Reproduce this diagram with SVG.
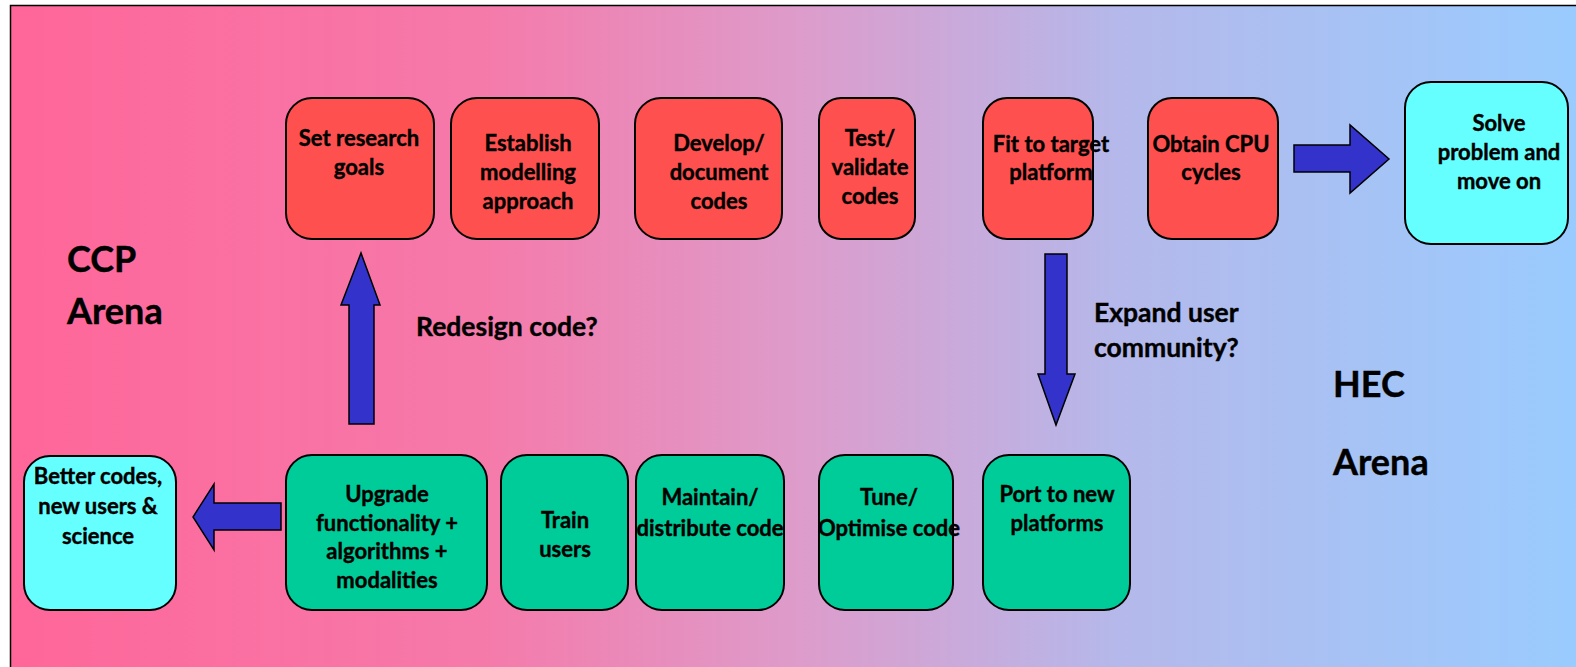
<svg xmlns="http://www.w3.org/2000/svg" width="1576" height="667" viewBox="0 0 1576 667">
<defs>
<linearGradient id="bg" x1="0" y1="0" x2="1" y2="0">
<stop offset="0" stop-color="#FF6699"/>
<stop offset="0.3" stop-color="#F57AAA"/>
<stop offset="0.5" stop-color="#DD9CCB"/>
<stop offset="0.7" stop-color="#B5B8EA"/>
<stop offset="1" stop-color="#99CCFF"/>
</linearGradient>
</defs>
<style>
.box{stroke:#000;stroke-width:2}
.red{fill:#FF5050}
.green{fill:#00CC99}
.cyan{fill:#66FFFF}
.arr{fill:#3333CC;stroke:#000;stroke-width:1.5}
text{font-family:Lato,"Liberation Sans",sans-serif;font-weight:bold;fill:#000;stroke:#000;stroke-width:0.4}
.t{font-size:22px;text-anchor:middle}
.big{font-size:36px}
.lab{font-size:26.5px}
</style>
<rect x="10.5" y="5.5" width="1580" height="680" fill="url(#bg)" stroke="#000" stroke-width="1.5"/>

<g id="label-ccp"><text class="big" x="67" y="272">CCP</text><text class="big" x="67" y="324">Arena</text></g>
<g id="label-hec"><text class="big" x="1333" y="397">HEC</text><text class="big" x="1333" y="475">Arena</text></g>

<g id="n-set"><rect class="box red" x="286" y="98" width="148" height="141" rx="26"/>
<text class="t" x="359" y="146">Set research</text><text class="t" x="359" y="175">goals</text></g>
<g id="n-establish"><rect class="box red" x="451" y="98" width="148" height="141" rx="26"/>
<text class="t" x="528" y="151">Establish</text><text class="t" x="528" y="180">modelling</text><text class="t" x="528" y="209">approach</text></g>
<g id="n-develop"><rect class="box red" x="635" y="98" width="147" height="141" rx="26"/>
<text class="t" x="719" y="151">Develop/</text><text class="t" x="719" y="180">document</text><text class="t" x="719" y="209">codes</text></g>
<g id="n-test"><rect class="box red" x="819" y="98" width="96" height="141" rx="22"/>
<text class="t" x="870" y="146">Test/</text><text class="t" x="870" y="175">validate</text><text class="t" x="870" y="204">codes</text></g>
<g id="n-fit"><rect class="box red" x="983" y="98" width="110" height="141" rx="24"/>
<text class="t" x="1051" y="152">Fit to target</text><text class="t" x="1051" y="180">platform</text></g>
<g id="n-obtain"><rect class="box red" x="1148" y="98" width="130" height="141" rx="24"/>
<text class="t" x="1211" y="152">Obtain CPU</text><text class="t" x="1211" y="180">cycles</text></g>
<g id="n-solve"><rect class="box cyan" x="1405" y="82" width="163" height="162" rx="26"/>
<text class="t" x="1499" y="131">Solve</text><text class="t" x="1499" y="160">problem and</text><text class="t" x="1499" y="189">move on</text></g>

<g id="n-better"><rect class="box cyan" x="24" y="456" width="152" height="154" rx="26"/>
<text class="t" x="98" y="484">Better codes,</text><text class="t" x="98" y="514">new  users &amp;</text><text class="t" x="98" y="544">science</text></g>
<g id="n-upgrade"><rect class="box green" x="286" y="455" width="201" height="155" rx="26"/>
<text class="t" x="387" y="502">Upgrade</text><text class="t" x="387" y="531">functionality +</text><text class="t" x="387" y="559">algorithms +</text><text class="t" x="387" y="588">modalities</text></g>
<g id="n-train"><rect class="box green" x="501" y="455" width="127" height="155" rx="26"/>
<text class="t" x="565" y="528">Train</text><text class="t" x="565" y="557">users</text></g>
<g id="n-maintain"><rect class="box green" x="636" y="455" width="148" height="155" rx="26"/>
<text class="t" x="710" y="505">Maintain/</text><text class="t" x="710" y="536">distribute code</text></g>
<g id="n-tune"><rect class="box green" x="819" y="455" width="134" height="155" rx="26"/>
<text class="t" x="889" y="505">Tune/</text><text class="t" x="889" y="536">Optimise code</text></g>
<g id="n-port"><rect class="box green" x="983" y="455" width="147" height="155" rx="26"/>
<text class="t" x="1057" y="502">Port to new</text><text class="t" x="1057" y="531">platforms</text></g>

<g id="connectors">
<polygon class="arr" points="1294,145 1350,145 1350,125 1389,159 1350,193 1350,172 1294,172"/>
<polygon class="arr" points="1045,254 1067,254 1067,374 1075,374 1056,425 1038,374 1045,374"/>
<polygon class="arr" points="349,424 374,424 374,305 380,305 361,253 341,305 349,305"/>
<polygon class="arr" points="281,503 281,530 214,530 214,550 193,517 214,484 214,503"/>
<text class="lab" x="416" y="336">Redesign code?</text>
<text class="lab" x="1094" y="322">Expand user</text>
<text class="lab" x="1094" y="357">community?</text>
</g>
</svg>
